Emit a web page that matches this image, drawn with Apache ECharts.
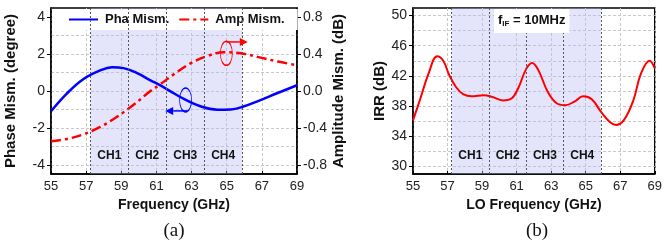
<!DOCTYPE html>
<html><head><meta charset="utf-8">
<script src="https://cdn.jsdelivr.net/npm/echarts@6/dist/echarts.min.js"></script>
<style>html,body{margin:0;padding:0;background:#fff}#c{width:665px;height:246px}</style>
</head><body><div id="c"></div>
<script>
// ---- data (a) ----
const freqPha = [55, 55.9, 56.85, 57.8, 58.47, 59.13, 59.9, 60.66, 61.2, 61.8, 62.56, 63.5, 64.47, 65.23, 65.99, 66.75, 67.9, 69];
const phaMism = [-1.10, -0.14, 0.65, 1.12, 1.29, 1.24, 0.97, 0.58, 0.32, -0.02, -0.43, -0.83, -1.01, -1.00, -0.83, -0.56, -0.11, 0.31];
const freqAmp = [55, 55.9, 56.85, 57.8, 58.75, 59.7, 60.66, 61.2, 61.98, 62.94, 63.9, 64.85, 65.8, 66.75, 67.9, 69];
const ampMism = [-0.544, -0.52, -0.47, -0.39, -0.28, -0.15, 0.0, 0.07, 0.18, 0.30, 0.38, 0.42, 0.41, 0.37, 0.32, 0.28];
// ---- data (b) ----
const freqLO = [55, 55.4, 55.9, 56.4, 56.75, 57.1, 57.5, 57.9, 58.4, 59.1, 59.6, 60.2, 60.7, 61.1, 61.55, 61.9, 62.25, 62.8, 63.3, 63.8, 64.35, 64.85, 65.35, 65.9, 66.4, 66.75, 67.2, 67.75, 68.2, 68.7, 69];
const irr = [36.1, 38.8, 42.3, 44.6, 44.0, 42.1, 40.5, 39.6, 39.3, 39.45, 39.2, 38.75, 39.0, 40.4, 42.9, 43.7, 42.8, 39.9, 38.4, 38.1, 38.6, 39.3, 38.9, 37.2, 35.9, 35.5, 36.1, 38.7, 42.3, 44.0, 43.0];
// ---- channels / ticks ----
const chEdges = [57.24, 59.40, 61.56, 63.72, 65.88];
const chNames = ['CH1', 'CH2', 'CH3', 'CH4'];
const phaTicks = [-4, -2, 0, 2, 4];
const phaGrid = [-4, -3, -2, -1, 0, 1, 2, 3, 4];
const ampTicks = [-0.8, -0.4, 0, 0.4, 0.8];
const irrTicks = [30, 34, 38, 42, 46, 50];
const irrGrid = [30, 32, 34, 36, 38, 40, 42, 44, 46, 48, 50];
// annotation anchors (data coords on panel a)
const blueEllipse = [62.66, -0.49];
const blueArrow = [[62.75, -1.08], [61.5, -1.08]];
const redEllipse = [64.98, 2.04];
const redArrow = [[64.98, 2.66], [66.2, 2.66]];

const zip = (a, b) => a.map((v, i) => [v, b[i]]);
const FONT = 'Liberation Sans, Arial, sans-serif';
const gridLine = { show: true, lineStyle: { color: '#c8c8c8', type: [3, 2], width: 1 } };
const axLine = { show: true, onZero: false, lineStyle: { color: '#000', width: 1.5 } };
const nameStyle = (s) => ({ fontFamily: FONT, fontWeight: 'bold', fontSize: s, color: '#111' });

function xAxisFor(gi, name) {
  return {
    type: 'value', gridIndex: gi, min: 55, max: 69, interval: 2,
    axisLine: axLine,
    axisTick: { show: true, inside: true, length: 3, lineStyle: { color: '#000', width: 1 } },
    axisLabel: { fontFamily: FONT, fontSize: 13, color: '#222', margin: 6 },
    splitLine: gridLine,
    name: name, nameLocation: 'middle', nameGap: 21, nameTextStyle: nameStyle(14)
  };
}

const chArea = (labelDist) => ({
  silent: true,
  itemStyle: { color: 'rgba(185,185,245,0.38)' },
  label: { show: true, position: 'insideBottom', distance: labelDist, fontFamily: FONT, fontWeight: 'bold', fontSize: 12, color: '#111' },
  data: chNames.map((n, i) => [{ name: n, xAxis: chEdges[i] }, { xAxis: chEdges[i + 1] }])
});
const chLines = {
  silent: true, symbol: ['none', 'none'], animation: false,
  label: { show: false },
  lineStyle: { type: [2, 2], color: '#555', width: 1 },
  data: chEdges.map(x => ({ xAxis: x }))
};

const chart = echarts.init(document.getElementById('c'));
chart.setOption({
  animation: false,
  backgroundColor: '#fff',
  grid: [
    { left: 51, top: 8, width: 246, height: 166, show: true, borderColor: '#000', borderWidth: 1.5, backgroundColor: 'transparent' },
    { left: 413, top: 8, width: 245, height: 166, show: true, borderColor: '#000', borderWidth: 1.5, backgroundColor: 'transparent' }
  ],
  title: [{
    left: 494, top: 8, padding: [5, 4, 5, 4], backgroundColor: '#fff',
    text: '{f|f}{s|IF}{t| = 10MHz}',
    textStyle: {
      rich: {
        f: { fontFamily: FONT, fontWeight: 'bold', fontSize: 13, color: '#111' },
        s: { fontFamily: FONT, fontWeight: 'bold', fontSize: 8, color: '#111', padding: [7, 0, 0, 0] },
        t: { fontFamily: FONT, fontWeight: 'bold', fontSize: 13, color: '#111' }
      }
    }
  }],
  legend: {
    data: ['Pha Mism.', 'Amp Mism.'],
    left: 52, top: 9, padding: [4, 13, 4, 16], itemWidth: 29, itemHeight: 14, itemGap: 9,
    backgroundColor: '#fff',
    itemStyle: { opacity: 0 },
    textStyle: { fontFamily: FONT, fontWeight: 'bold', fontSize: 13, color: '#111', padding: [0, 0, 0, 2] }
  },
  xAxis: [xAxisFor(0, 'Frequency (GHz)'), xAxisFor(1, 'LO Frequency (GHz)')],
  yAxis: [
    { type: 'value', gridIndex: 0, position: 'left', min: -4.5, max: 4.5,
      axisLine: axLine,
      axisTick: { show: true, length: 4, customValues: phaTicks, lineStyle: { color: '#000' } },
      axisLabel: { customValues: phaTicks, fontFamily: FONT, fontSize: 14, color: '#222', margin: 6 },
      splitLine: { show: false },
      name: 'Phase Mism. (degree)', nameLocation: 'middle', nameRotate: 90, nameGap: 33, nameTextStyle: nameStyle(15) },
    { type: 'value', gridIndex: 0, position: 'right', min: -0.9, max: 0.9,
      axisLine: axLine,
      axisTick: { show: true, length: 4, customValues: ampTicks, lineStyle: { color: '#000' } },
      axisLabel: { customValues: ampTicks, fontFamily: FONT, fontSize: 14, color: '#222', margin: 6, formatter: v => v.toFixed(1) },
      splitLine: { show: false },
      name: 'Amplitude Mism. (dB)', nameLocation: 'middle', nameRotate: 90, nameGap: 34, nameTextStyle: nameStyle(15) },
    { type: 'value', gridIndex: 0, position: 'left', min: -4.5, max: 4.5,
      axisLine: { show: false }, axisLabel: { show: false },
      axisTick: { show: false, customValues: phaGrid },
      splitLine: gridLine },
    { type: 'value', gridIndex: 1, position: 'left', min: 29, max: 51,
      axisLine: axLine,
      axisTick: { show: true, length: 4, customValues: irrTicks, lineStyle: { color: '#000' } },
      axisLabel: { customValues: irrTicks, fontFamily: FONT, fontSize: 14, color: '#222', margin: 6 },
      splitLine: { show: false },
      name: 'IRR (dB)', nameLocation: 'middle', nameRotate: 90, nameGap: 25, nameTextStyle: nameStyle(15) },
    { type: 'value', gridIndex: 1, position: 'left', min: 29, max: 51,
      axisLine: { show: false }, axisLabel: { show: false },
      axisTick: { show: false, customValues: irrGrid },
      splitLine: gridLine }
  ],
  series: [
    { name: 'Pha Mism.', type: 'line', xAxisIndex: 0, yAxisIndex: 0, data: zip(freqPha, phaMism),
      smooth: 0.4, symbol: 'none', z: 4, lineStyle: { color: '#0000ff', width: 2.5 }, itemStyle: { color: '#0000ff' },
      markArea: chArea(12), markLine: chLines },
    { name: 'Amp Mism.', type: 'line', xAxisIndex: 0, yAxisIndex: 1, data: zip(freqAmp, ampMism),
      smooth: 0.4, symbol: 'none', z: 4, lineStyle: { color: '#ff0000', width: 2.5, type: [10, 4, 3, 4] }, itemStyle: { color: '#ff0000' } },
    { name: 'IRR', type: 'line', xAxisIndex: 1, yAxisIndex: 3, data: zip(freqLO, irr),
      smooth: 0.4, symbol: 'none', z: 4, lineStyle: { color: '#ff0000', width: 2 }, itemStyle: { color: '#ff0000' },
      markArea: chArea(12), markLine: chLines }
  ]
});

const px = (p) => chart.convertToPixel({ xAxisIndex: 0, yAxisIndex: 0 }, p);
function ellipse(c, color) {
  const p = px(c);
  return { type: 'circle', x: p[0], y: p[1], scaleX: 0.5, z: 10,
    shape: { cx: 0, cy: 0, r: 12 }, style: { fill: 'none', stroke: color, lineWidth: 1.5, strokeNoScale: true } };
}
function arrow(seg, color) {
  const a = px(seg[0]), b = px(seg[1]);
  const dir = Math.sign(b[0] - a[0]);
  const base = b[0] - dir * 8;
  return [
    { type: 'line', z: 10, shape: { x1: a[0], y1: a[1], x2: base, y2: b[1] }, style: { stroke: color, lineWidth: 1.5 } },
    { type: 'polygon', z: 10, shape: { points: [[b[0], b[1]], [base, b[1] - 4], [base, b[1] + 4]] }, style: { fill: color } }
  ];
}
chart.setOption({
  graphic: [
    ellipse(blueEllipse, '#0000ff'), ...arrow(blueArrow, '#0000ff'),
    ellipse(redEllipse, '#ff0000'), ...arrow(redArrow, '#ff0000'),
    { type: 'text', x: 174, y: 231, z: 10, style: { text: '(a)', font: '19px "Liberation Serif", serif', fill: '#111', align: 'center', verticalAlign: 'middle' } },
    { type: 'text', x: 537, y: 231, z: 10, style: { text: '(b)', font: '19px "Liberation Serif", serif', fill: '#111', align: 'center', verticalAlign: 'middle' } }
  ]
});
</script></body></html>
